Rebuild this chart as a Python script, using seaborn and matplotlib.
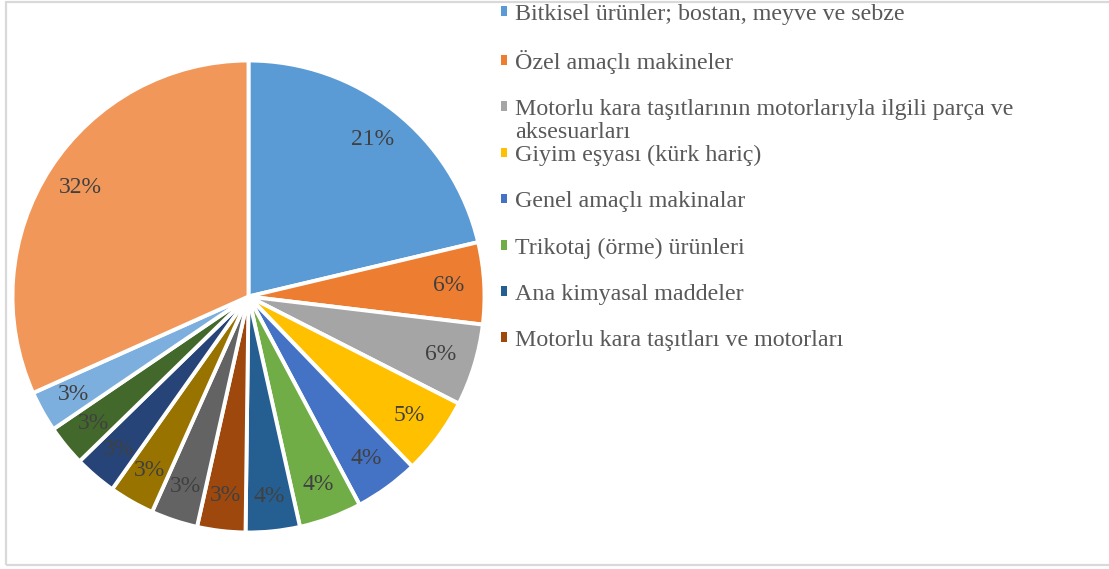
# Pie chart of export shares by product group
import numpy as np
import matplotlib
matplotlib.use('Agg')
import matplotlib.pyplot as plt
import seaborn as sns
from matplotlib.patches import Rectangle, Patch

# ------------------------------------------------------
# DATA
# ------------------------------------------------------

# Shares (clockwise from 12 o'clock)
shares = [21.3, 5.6, 5.6, 5.3, 4.4, 4.3, 3.7, 3.3, 3.2, 3.1, 2.9, 2.8, 2.8, 31.7]

# Only the first eight groups are visible in the legend
legend_labels = ['Bitkisel ürünler; bostan, meyve ve sebze',
                 'Özel amaçlı makineler',
                 'Motorlu kara taşıtlarının motorlarıyla ilgili parça ve',
                 'Giyim eşyası (kürk hariç)',
                 'Genel amaçlı makinalar',
                 'Trikotaj (örme) ürünleri',
                 'Ana kimyasal maddeler',
                 'Motorlu kara taşıtları ve motorları']
wrapped_tail = 'aksesuarları'

slice_colors = ['#5B9BD5', '#ED7D31', '#A5A5A5', '#FFC000', '#4472C4', '#70AD47',
                '#255E91', '#9E480E', '#636363', '#997300', '#264478', '#43682B',
                '#7CAFDD', '#F1975A']

# ------------------------------------------------------
# PLOT
# ------------------------------------------------------

sns.set_theme(style='white')
plt.rcParams['font.family'] = ['Liberation Serif', 'DejaVu Serif']

W, H = 1109, 569
fig = plt.figure(figsize=(W / 100, H / 100), dpi=100)

# Pie axes: center (248.5, 296.5) px, radius 236 px
cx, cy, r = 248.5, 296.5, 236
ax = fig.add_axes([(cx - r) / W, (H - cy - r) / H, 2 * r / W, 2 * r / H])

palette = sns.color_palette(slice_colors)
wedges, texts, autotexts = ax.pie(shares, colors=palette, startangle=90, counterclock=False,
                                  autopct='%1.0f%%', pctdistance=0.85,
                                  wedgeprops=dict(edgecolor='white', linewidth=2.8),
                                  textprops=dict(color='#404040', fontsize=17))
ax.set_xlim(-1, 1)
ax.set_ylim(-1, 1)
ax.axis('off')

# Legend (first eight entries only), plain squares without the white wedge edge
fs = 17.3
handles = [Patch(facecolor=c, edgecolor='none') for c in palette[:8]]
leg = fig.legend(handles, legend_labels, loc='upper left',
                 bbox_to_anchor=(491 / W, 1 - (-6) / H), frameon=False,
                 handlelength=0.25, handleheight=0.25, handletextpad=0.36,
                 labelspacing=1.045, fontsize=fs, labelcolor='#595959',
                 borderaxespad=0)

# Lay out once so the legend text positions are known
fig.canvas.draw()

# Wrapped second line of the third legend entry
fig.add_artist(plt.Annotation(wrapped_tail, xy=(0, 0), xycoords=leg.get_texts()[2],
                              xytext=(0, -17), textcoords='offset points',
                              va='bottom', ha='left', fontsize=fs, color='#595959',
                              zorder=6))

# Light gray frame around the chart area (open on the right)
fig.add_artist(Rectangle((5.5 / W, 4 / H), 1.2, (565 - 1.5) / H, transform=fig.transFigure,
                         fill=False, edgecolor='#D9D9D9', linewidth=1.6, clip_on=False))

fig.savefig('out.png', dpi=100)
